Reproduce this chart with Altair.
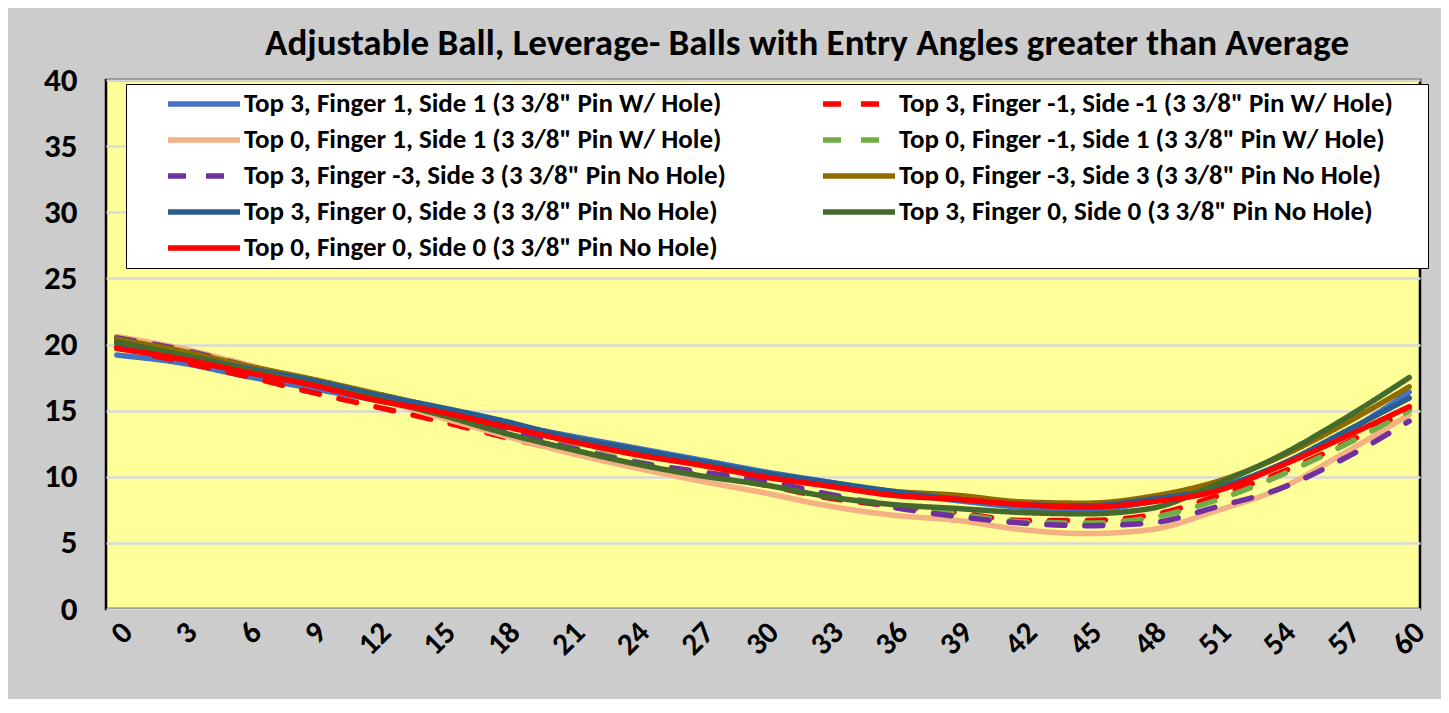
import altair as alt
import pandas as pd

x_vals = list(range(0, 61, 3))

series_names = [
    'Top 3, Finger 1, Side 1 (3 3/8" Pin W/ Hole)',
    'Top 3, Finger -1, Side -1 (3 3/8" Pin W/ Hole)',
    'Top 0, Finger 1, Side 1 (3 3/8" Pin W/ Hole)',
    'Top 0, Finger -1, Side 1 (3 3/8" Pin W/ Hole)',
    'Top 3, Finger -3, Side 3 (3 3/8" Pin No Hole)',
    'Top 0, Finger -3, Side 3 (3 3/8" Pin No Hole)',
    'Top 3, Finger 0, Side 3 (3 3/8" Pin No Hole)',
    'Top 3, Finger 0, Side 0 (3 3/8" Pin No Hole)',
    'Top 0, Finger 0, Side 0 (3 3/8" Pin No Hole)',
]

blue_t3_f1_s1 = [19.2, 18.6, 17.6, 16.7, 15.8, 14.9, 14.0, 13.1, 12.2, 11.3, 10.4, 9.6, 8.8, 8.2, 7.7, 7.5, 8.1, 9.1, 10.9, 13.3, 16.4]
reddash_t3_fm1_sm1 = [19.8, 18.7, 17.6, 16.4, 15.3, 14.2, 13.0, 11.9, 11.0, 10.2, 9.4, 8.4, 7.8, 7.3, 6.7, 6.7, 7.1, 8.5, 10.3, 12.5, 15.1]
peach_t0_f1_s1 = [20.6, 19.7, 18.5, 17.2, 15.9, 14.5, 13.1, 11.8, 10.7, 9.7, 8.8, 7.8, 7.1, 6.7, 6.0, 5.7, 6.0, 7.4, 9.1, 11.8, 14.7]
greendash_t0_fm1_s1 = [20.5, 19.6, 18.4, 17.2, 16.0, 14.8, 13.5, 12.3, 11.2, 10.3, 9.5, 8.6, 7.9, 7.2, 6.6, 6.5, 6.9, 8.2, 10.1, 12.4, 15.0]
purple_t3_fm3_s3 = [20.5, 19.6, 18.4, 17.2, 16.0, 14.8, 13.5, 12.2, 11.1, 10.4, 9.7, 8.7, 7.7, 7.0, 6.5, 6.3, 6.5, 7.7, 9.1, 11.4, 14.2]
brown_t0_fm3_s3 = [20.4, 19.5, 18.4, 17.4, 16.3, 15.2, 14.1, 13.0, 12.0, 11.1, 10.2, 9.5, 8.9, 8.6, 8.1, 8.0, 8.5, 9.6, 11.5, 14.0, 16.8]
steel_t3_f0_s3 = [20.1, 19.2, 18.2, 17.3, 16.2, 15.25, 14.2, 13.0, 12.1, 11.2, 10.3, 9.6, 8.9, 8.3, 7.9, 7.8, 8.3, 9.1, 10.9, 13.4, 15.95]
dkgreen_t3_f0_s0 = [20.2, 19.2, 18.1, 17.0, 15.9, 14.7, 13.3, 12.1, 11.0, 10.1, 9.4, 8.5, 7.9, 7.6, 7.3, 7.2, 7.6, 9.4, 11.6, 14.4, 17.5]
red_t0_f0_s0 = [19.7, 18.9, 17.9, 16.95, 15.8, 14.9, 13.8, 12.7, 11.7, 10.9, 10.0, 9.3, 8.6, 8.3, 7.9, 7.7, 8.1, 8.9, 10.8, 13.0, 15.3]

series_values = [
    blue_t3_f1_s1, reddash_t3_fm1_sm1, peach_t0_f1_s1, greendash_t0_fm1_s1,
    purple_t3_fm3_s3, brown_t0_fm3_s3, steel_t3_f0_s3, dkgreen_t3_f0_s0, red_t0_f0_s0,
]

series_colors = ["#4472C4", "#FF0000", "#F4B183", "#70AD47", "#7030A0",
                 "#8F6B00", "#2A5D8F", "#446A2C", "#FF0000"]
dash_solid = [1, 0]
dash_dash = [18, 20]
series_dashes = [dash_solid, dash_dash, dash_solid, dash_dash, dash_dash,
                 dash_solid, dash_solid, dash_solid, dash_solid]

y_ticks = list(range(0, 41, 5))

rows = []
for order, (name, vals) in enumerate(zip(series_names, series_values)):
    for xv, yv in zip(x_vals, vals):
        rows.append({"x": xv, "value": yv, "series": name, "ord": order})
df = pd.DataFrame(rows)

FONT = "Carlito, Lato, sans-serif"
BLANK_PAD = "\u00a0\u00a0\u2800"

chart = alt.Chart(df).mark_line(
    strokeWidth=5.5, interpolate="monotone", strokeCap="round", strokeJoin="round"
).encode(
    x=alt.X("x:Q",
            scale=alt.Scale(domain=[-0.5, 60.5], nice=False, zero=False),
            axis=alt.Axis(values=x_vals, labelAngle=-45, labelFontSize=31,
                          labelFontWeight="bold", labelFont=FONT, labelColor="black",
                          grid=False, ticks=False, domain=False, labelPadding=8,
                          title=None)),
    y=alt.Y("value:Q",
            scale=alt.Scale(domain=[0, 40], nice=False),
            axis=alt.Axis(values=y_ticks, labelFontSize=33, labelFontWeight="bold",
                          labelFont=FONT, labelColor="black", grid=True,
                          gridColor="#D9D9D9", gridWidth=2.5, ticks=False,
                          domain=False, labelPadding=29, title=None)),
    color=alt.Color("series:N",
                    scale=alt.Scale(domain=series_names, range=series_colors),
                    legend=alt.Legend(
                        title=None, orient="none", legendX=20, legendY=4,
                        columns=2, direction="horizontal",
                        symbolType="stroke", symbolSize=5184,
                        symbolStrokeWidth=5.5, clipHeight=36, rowPadding=0,
                        columnPadding=24, padding=2, symbolOffset=37,
                        labelOffset=1, labelFontSize=27, labelFontWeight="bold",
                        labelFont=FONT, labelColor="black", labelLimit=900,
                        labelExpr="datum.label + '" + BLANK_PAD + "'",
                        fillColor="white", strokeColor="black")),
    strokeDash=alt.StrokeDash("series:N",
                              scale=alt.Scale(domain=series_names, range=series_dashes),
                              legend=alt.Legend(title=None)),
    detail="ord:O",
).properties(
    width=1314,
    height=529,
    title=alt.Title("Adjustable Ball, Leverage- Balls with Entry Angles greater than Average",
                    fontSize=37, fontWeight="bold", font=FONT, color="black",
                    anchor="middle", frame="group", dx=44, dy=38, offset=10,
                    baseline="alphabetic"),
    autosize=alt.AutoSizeParams(type="none"),
    padding={"left": 98, "top": 72, "right": 21, "bottom": 90},
).configure(
    background="#CCCCCC",
).configure_view(
    fill="#FFFF99", stroke="black", strokeWidth=2.5,
)

chart.save("out.html", embed_options={"renderer": "svg", "actions": False})
